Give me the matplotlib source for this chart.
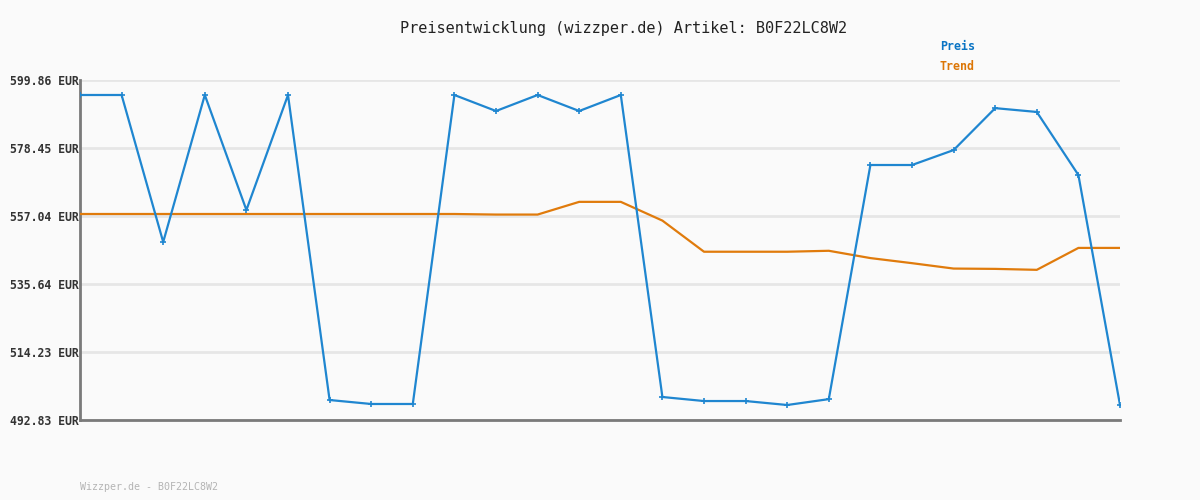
import numpy as np
import matplotlib
matplotlib.use("Agg")
import matplotlib.pyplot as plt

# price history and trend
preis = [595.14, 595.14, 548.86, 595.14, 558.94, 595.14, 499.12, 497.87, 497.87,
         595.14, 590.10, 595.14, 590.10, 595.14, 500.07, 498.80, 498.80, 497.55,
         499.40, 573.10, 573.10, 577.80, 591.00, 589.80, 569.95, 497.55]
trend = [557.68, 557.68, 557.68, 557.68, 557.68, 557.68, 557.68, 557.68, 557.68,
         557.68, 557.50, 557.50, 561.50, 561.50, 555.60, 545.80, 545.80, 545.80,
         546.10, 543.80, 542.20, 540.50, 540.40, 540.10, 547.00, 547.00]
yticks = [492.83, 514.23, 535.64, 557.04, 578.45, 599.86]

BG = '#fafafa'
BLUE = '#1f86d0'
ORANGE = '#e07b0c'
MONO = ['DejaVu Sans Mono']

fig = plt.figure(figsize=(12, 5), dpi=100, facecolor=BG)
ax = fig.add_axes([80/1200, 80/500, 1040/1200, 340/500], facecolor=BG)

x = np.arange(len(preis))
ax.plot(x, trend, color=ORANGE, lw=1.6, zorder=3)
ax.plot(x, preis, color=BLUE, lw=1.6, marker='+', markersize=4, mew=1.2, zorder=4)

ax.set_xlim(0, len(preis) - 1)
ax.set_ylim(yticks[0], yticks[-1])
ax.set_yticks(yticks)
ax.set_yticklabels(['%.2f EUR' % v for v in yticks], family=MONO,
                   fontsize=8.3, fontweight='bold', color='#333333')
ax.set_xticks([])
ax.tick_params(axis='y', length=0, pad=1)
ax.grid(axis='y', color='#e6e6e6', lw=2)
ax.set_axisbelow(True)

for s in ['top', 'right']:
    ax.spines[s].set_visible(False)
for s in ['left', 'bottom']:
    ax.spines[s].set_color('#7a7a7a')
    ax.spines[s].set_linewidth(2)

fig.text(624/1200, 1 - 28/500, 'Preisentwicklung (wizzper.de) Artikel: B0F22LC8W2',
         ha='center', va='center', family=MONO, fontsize=11, color='#222222')
fig.text(940/1200, 1 - 47/500, 'Preis', ha='left', va='center', family=MONO,
         fontsize=8.4, fontweight='bold', color='#0a74c4')
fig.text(940/1200, 1 - 67/500, 'Trend', ha='left', va='center', family=MONO,
         fontsize=8.4, fontweight='bold', color='#dc7606')
fig.text(80/1200, 1 - 487/500, 'Wizzper.de - B0F22LC8W2', ha='left', va='center',
         family=MONO, fontsize=7.2, color='#b4b4b4')

fig.savefig('out.png', dpi=100, facecolor=BG)
